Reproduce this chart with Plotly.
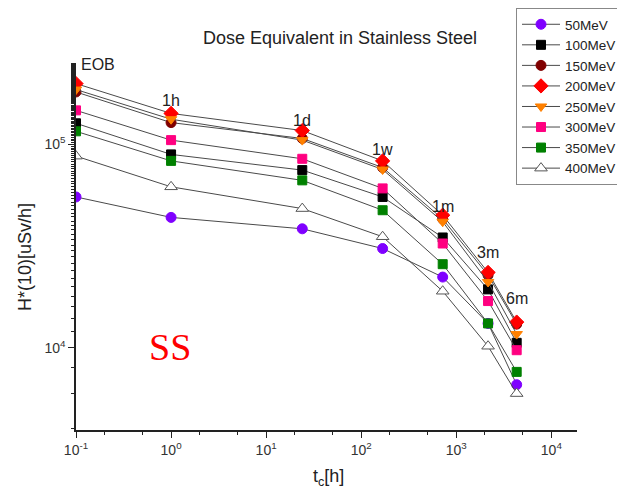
import math
import plotly.graph_objects as go

times = [0.1, 1, 24, 168, 720, 2160, 4320]
time_labels = ["EOB", "1h", "1d", "1w", "1m", "3m", "6m"]
label_y_paper = [0.995, 0.899, 0.842, 0.763, 0.610, 0.485, 0.357]

series_names = ["50MeV", "100MeV", "150MeV", "200MeV", "250MeV", "300MeV", "350MeV", "400MeV"]
v50 = [5.52e4, 4.38e4, 3.85e4, 3.08e4, 2.23e4, 1.32e4, 6.6e3]
v100 = [1.27e5, 8.93e4, 7.48e4, 5.52e4, 3.49e4, 1.94e4, 1.06e4]
v150 = [1.81e5, 1.28e5, 1.07e5, 7.7e4, 4.3e4, 2.28e4, 1.31e4]
v200 = [1.99e5, 1.42e5, 1.17e5, 8.3e4, 4.49e4, 2.35e4, 1.34e4]
v250 = [1.86e5, 1.33e5, 1.05e5, 7.53e4, 4.17e4, 2.11e4, 1.17e4]
v300 = [1.47e5, 1.05e5, 8.5e4, 6.08e4, 3.26e4, 1.70e4, 9.75e3]
v350 = [1.16e5, 8.30e4, 6.66e4, 4.75e4, 2.58e4, 1.32e4, 7.63e3]
v400 = [8.76e4, 6.19e4, 4.84e4, 3.52e4, 1.90e4, 1.02e4, 5.97e3]
values = [v50, v100, v150, v200, v250, v300, v350, v400]

x_tickvals = [0.1, 1, 10, 100, 1000, 10000]
x_ticktext = ["10<sup>-1</sup>", "10<sup>0</sup>", "10<sup>1</sup>", "10<sup>2</sup>", "10<sup>3</sup>", "10<sup>4</sup>"]
y_tickvals = [1e4, 1e5]
y_ticktext = ["10<sup>4</sup>", "10<sup>5</sup>"]

symbols = ["circle", "square", "circle", "diamond", "triangle-down", "square", "square", "triangle-up"]
colors = ["#7F00FF", "#000000", "#800000", "#FF0000", "#FF8000", "#FF0080", "#008000", "#FFFFFF"]
edge = ["#7F00FF", "#000000", "#800000", "#FF0000", "#FF8000", "#FF0080", "#008000", "#555555"]
sizes = [10, 9, 10, 11, 10, 9, 9, 11]

fig = go.Figure()
for name, vals, sym, col, ec, sz in zip(series_names, values, symbols, colors, edge, sizes):
    fig.add_trace(go.Scatter(
        x=times, y=vals, name=name, mode="lines+markers",
        line=dict(color="#4a4a4a", width=1),
        marker=dict(symbol=sym, color=col, size=sz, line=dict(color=ec, width=1)),
    ))

for lab, t, yp in zip(time_labels, times, label_y_paper):
    fig.add_annotation(
        x=math.log10(t), y=yp, xref="x", yref="paper", text=lab, showarrow=False,
        xanchor="left" if lab == "EOB" else "center", yanchor="middle",
        xshift=3 if lab == "EOB" else 0,
        font=dict(family="Liberation Sans, Arial", size=16, color="#222222"),
    )

fig.add_annotation(
    x=(170 - 76) / 501, y=(430 - 347) / 367, xref="paper", yref="paper", text="SS", showarrow=False,
    xanchor="center", yanchor="middle",
    font=dict(family="Liberation Serif, Times New Roman", size=38, color="#FF0000"),
)
# axis titles
fig.add_annotation(
    x=(25 - 76) / 501, y=(430 - 257) / 367, xref="paper", yref="paper", text="H*(10)[uSv/h]",
    showarrow=False, textangle=-90, xanchor="center", yanchor="middle",
    font=dict(family="Liberation Sans, Arial", size=18, color="#222222"),
)
fig.add_annotation(
    x=(328 - 76) / 501, y=(430 - 477) / 367, xref="paper", yref="paper", text="t<sub>c</sub>[h]",
    showarrow=False, xanchor="center", yanchor="middle",
    font=dict(family="Liberation Sans, Arial", size=18, color="#222222"),
)

axis_font = dict(family="Liberation Sans, Arial", size=14, color="#333333")
fig.update_layout(
    width=617, height=490,
    margin=dict(l=76, r=40, t=63, b=60, autoexpand=False),
    paper_bgcolor="white", plot_bgcolor="white",
    title=dict(text="Dose Equivalent in Stainless Steel", x=340 / 617, xanchor="center",
               y=1 - 38 / 490, yanchor="middle",
               font=dict(family="Liberation Sans, Arial", size=18, color="#222222")),
    showlegend=True,
    legend=dict(x=(516 - 76) / 501, xanchor="left", y=1 + (63 - 8) / 367, yanchor="top",
                bgcolor="white", bordercolor="#888888", borderwidth=1,
                font=dict(family="Liberation Sans, Arial", size=13.5, color="#222222"),
                itemwidth=38, tracegroupgap=0),
    xaxis=dict(type="log", range=[-1, 4.27], showline=True, linecolor="#222222", linewidth=1.5,
               ticks="outside", ticklen=6, tickcolor="#222222", showgrid=False,
               tickvals=x_tickvals, ticktext=x_ticktext,
               zeroline=False, tickfont=axis_font,
               minor=dict(ticks="outside", ticklen=3, tickcolor="#222222", showgrid=False)),
    yaxis=dict(type="log", range=[3.597, 5.40], showline=True, linecolor="#222222", linewidth=1.5,
               ticks="outside", ticklen=6, tickcolor="#222222", showgrid=False,
               tickvals=y_tickvals, ticktext=y_ticktext,
               zeroline=False, tickfont=axis_font,
               minor=dict(ticks="outside", ticklen=3, tickcolor="#222222", showgrid=False)),
)

fig.write_html("out.html")
